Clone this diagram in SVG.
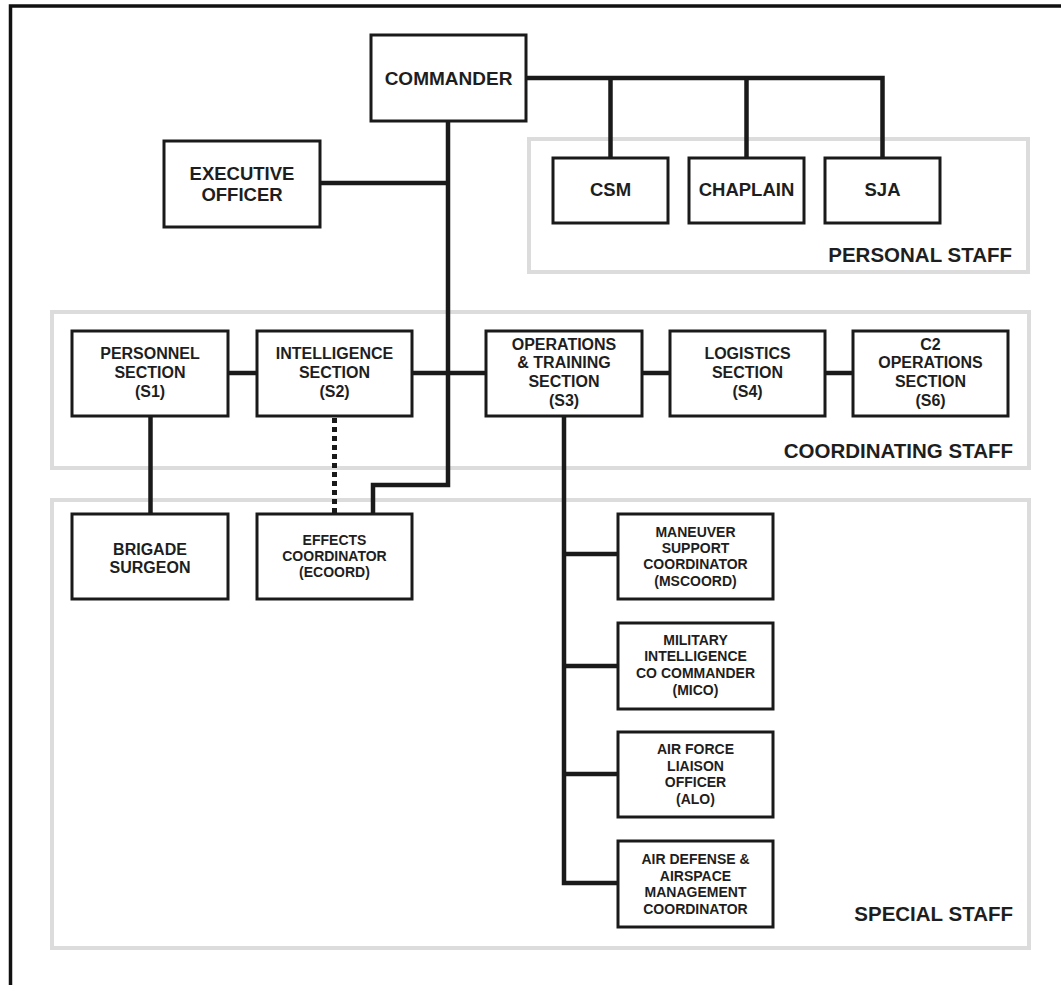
<svg xmlns="http://www.w3.org/2000/svg" width="1061" height="985" viewBox="0 0 1061 985">
  <style>
    .frame { fill: none; stroke: #111; stroke-width: 3.5; }
    .group { fill: none; stroke: #dcdcdc; stroke-width: 4; }
    .box { fill: #fff; stroke: #1a1a1a; stroke-width: 3; }
    .link { fill: none; stroke: #1a1a1a; stroke-width: 4.5; }
    .dotted { fill: none; stroke: #1a1a1a; stroke-width: 5; stroke-dasharray: 5 4; }
    text { font-family: "Liberation Sans", Arial, sans-serif; font-weight: bold; fill: #1e1e1e; text-anchor: middle; }
    .t19 { font-size: 19px; }
    .t18 { font-size: 18.5px; }
    .t16 { font-size: 16px; }
    .t14 { font-size: 14px; }
    .label { font-size: 20.5px; text-anchor: end; }
  </style>

  <rect width="1061" height="985" fill="#fff"/>
  <!-- page frame: top and left edges only -->
  <path class="frame" d="M10.5,985 V6 H1061"/>

  <!-- staff groupings -->
  <g id="personal-staff">
    <rect class="group" x="529" y="139" width="499" height="133"/>
    <text class="label" x="1012" y="262">PERSONAL STAFF</text>
  </g>
  <g id="coordinating-staff">
    <rect class="group" x="52" y="312" width="977" height="156"/>
    <text class="label" x="1013" y="458">COORDINATING STAFF</text>
  </g>
  <g id="special-staff">
    <rect class="group" x="52" y="500" width="977" height="448"/>
    <text class="label" x="1013" y="921">SPECIAL STAFF</text>
  </g>

  <!-- connectors -->
  <g id="connectors">
    <path class="link" d="M526,78 H882.5 V158"/>
    <path class="link" d="M610.5,78 V158"/>
    <path class="link" d="M746.5,78 V158"/>
    <path class="link" d="M448,121 V485 H373 V514"/>
    <path class="link" d="M320,183 H448"/>
    <path class="link" d="M228,373 H257"/>
    <path class="link" d="M412,373 H485"/>
    <path class="link" d="M642,373 H669"/>
    <path class="link" d="M825,373 H853"/>
    <path class="link" d="M150.5,416 V514"/>
    <path class="dotted" d="M334.5,418 V514"/>
    <path class="link" d="M564,416 V883 H618"/>
    <path class="link" d="M564,554 H618"/>
    <path class="link" d="M564,666 H618"/>
    <path class="link" d="M564,774 H618"/>
  </g>

  <!-- command group -->
  <g id="commander">
    <rect class="box" x="371" y="35" width="155" height="86"/>
    <text class="t19" x="448.5" y="85">COMMANDER</text>
  </g>
  <g id="executive-officer">
    <rect class="box" x="164" y="141" width="156" height="86"/>
    <text class="t18" x="242" y="179.5">EXECUTIVE</text>
    <text class="t18" x="242" y="200.5">OFFICER</text>
  </g>

  <!-- personal staff -->
  <g id="csm">
    <rect class="box" x="553" y="158" width="115" height="65"/>
    <text class="t18" x="610.5" y="196">CSM</text>
  </g>
  <g id="chaplain">
    <rect class="box" x="689" y="158" width="115" height="65"/>
    <text class="t18" x="746.5" y="196">CHAPLAIN</text>
  </g>
  <g id="sja">
    <rect class="box" x="825" y="158" width="115" height="65"/>
    <text class="t18" x="882.5" y="196">SJA</text>
  </g>

  <!-- coordinating staff -->
  <g id="s1">
    <rect class="box" x="72" y="331" width="156" height="85"/>
    <text class="t16" x="150" y="358.7">PERSONNEL</text>
    <text class="t16" x="150" y="377.7">SECTION</text>
    <text class="t16" x="150" y="396.7">(S1)</text>
  </g>
  <g id="s2">
    <rect class="box" x="257" y="331" width="155" height="85"/>
    <text class="t16" x="334.5" y="358.7">INTELLIGENCE</text>
    <text class="t16" x="334.5" y="377.7">SECTION</text>
    <text class="t16" x="334.5" y="396.7">(S2)</text>
  </g>
  <g id="s3">
    <rect class="box" x="486" y="331" width="156" height="85"/>
    <text class="t16" x="564" y="349.7">OPERATIONS</text>
    <text class="t16" x="564" y="368.2">&amp; TRAINING</text>
    <text class="t16" x="564" y="386.7">SECTION</text>
    <text class="t16" x="564" y="405.7">(S3)</text>
  </g>
  <g id="s4">
    <rect class="box" x="670" y="331" width="155" height="85"/>
    <text class="t16" x="747.5" y="358.7">LOGISTICS</text>
    <text class="t16" x="747.5" y="377.7">SECTION</text>
    <text class="t16" x="747.5" y="396.7">(S4)</text>
  </g>
  <g id="s6">
    <rect class="box" x="853" y="331" width="155" height="85"/>
    <text class="t16" x="930.5" y="349.7">C2</text>
    <text class="t16" x="930.5" y="368.2">OPERATIONS</text>
    <text class="t16" x="930.5" y="386.7">SECTION</text>
    <text class="t16" x="930.5" y="405.7">(S6)</text>
  </g>

  <!-- special staff -->
  <g id="brigade-surgeon">
    <rect class="box" x="72" y="514" width="156" height="85"/>
    <text class="t16" x="150" y="554.7">BRIGADE</text>
    <text class="t16" x="150" y="572.7">SURGEON</text>
  </g>
  <g id="ecoord">
    <rect class="box" x="257" y="514" width="155" height="85"/>
    <text class="t14" x="334.5" y="545">EFFECTS</text>
    <text class="t14" x="334.5" y="561">COORDINATOR</text>
    <text class="t14" x="334.5" y="577">(ECOORD)</text>
  </g>
  <g id="mscoord">
    <rect class="box" x="618" y="514" width="155" height="85"/>
    <text class="t14" x="695.5" y="536.7">MANEUVER</text>
    <text class="t14" x="695.5" y="553.3">SUPPORT</text>
    <text class="t14" x="695.5" y="569.3">COORDINATOR</text>
    <text class="t14" x="695.5" y="586">(MSCOORD)</text>
  </g>
  <g id="mico">
    <rect class="box" x="618" y="623" width="155" height="86"/>
    <text class="t14" x="695.5" y="645">MILITARY</text>
    <text class="t14" x="695.5" y="661">INTELLIGENCE</text>
    <text class="t14" x="695.5" y="678.3">CO COMMANDER</text>
    <text class="t14" x="695.5" y="695">(MICO)</text>
  </g>
  <g id="alo">
    <rect class="box" x="618" y="732" width="155" height="85"/>
    <text class="t14" x="695.5" y="754">AIR FORCE</text>
    <text class="t14" x="695.5" y="770.7">LIAISON</text>
    <text class="t14" x="695.5" y="787.3">OFFICER</text>
    <text class="t14" x="695.5" y="804">(ALO)</text>
  </g>
  <g id="adam">
    <rect class="box" x="618" y="841" width="155" height="86"/>
    <text class="t14" x="695.5" y="864">AIR DEFENSE &amp;</text>
    <text class="t14" x="695.5" y="880.7">AIRSPACE</text>
    <text class="t14" x="695.5" y="897.3">MANAGEMENT</text>
    <text class="t14" x="695.5" y="914">COORDINATOR</text>
  </g>
</svg>
